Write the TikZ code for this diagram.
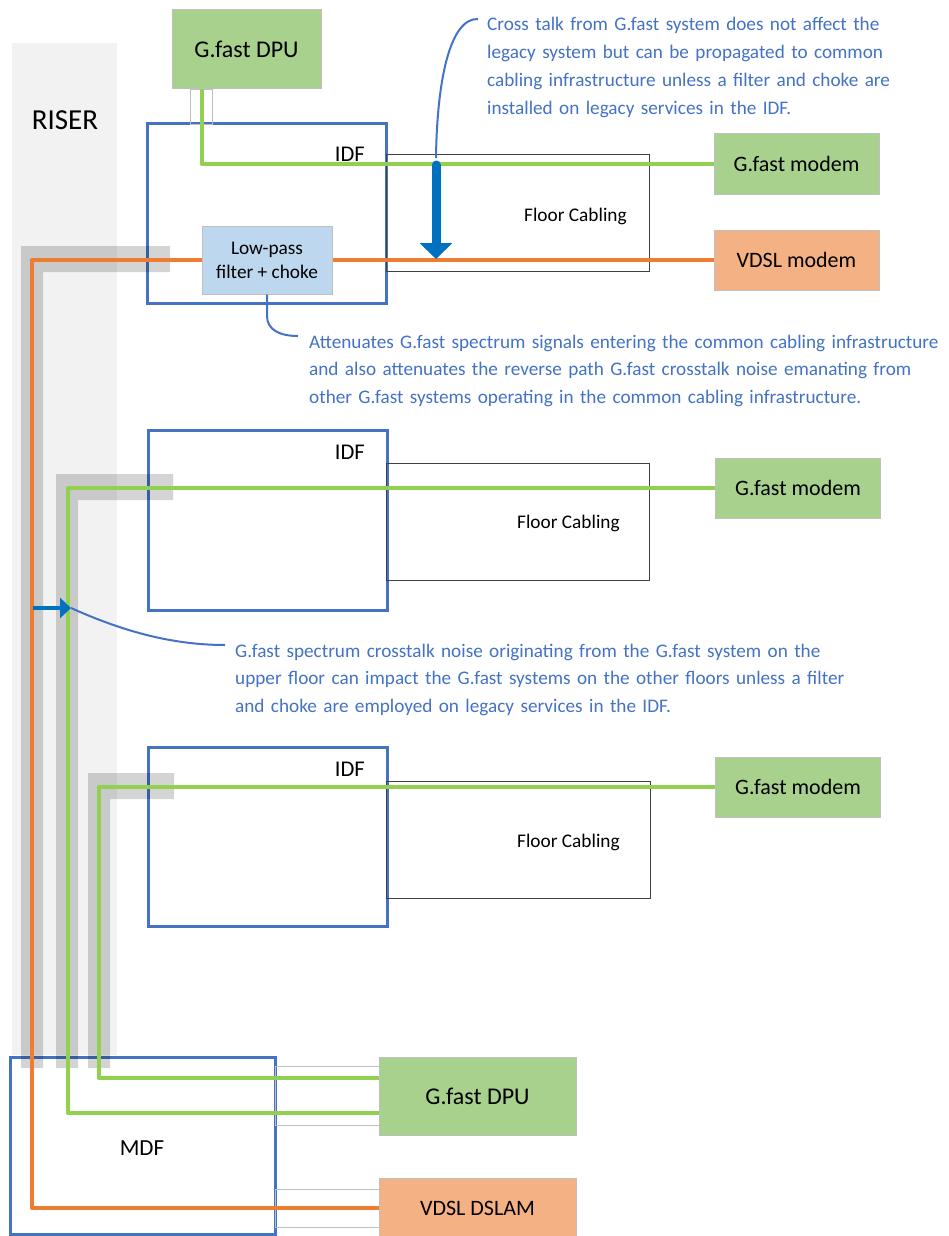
\documentclass[tikz,border=0pt]{standalone}
\usepackage{fontspec}
\setmainfont{Carlito}
\usetikzlibrary{arrows.meta}
\definecolor{dpugreen}{HTML}{A9D18E}
\definecolor{dslorange}{HTML}{F4B183}
\definecolor{cgreen}{HTML}{92D050}
\definecolor{corange}{HTML}{ED7D31}
\definecolor{idfblue}{HTML}{4472C4}
\definecolor{filblue}{HTML}{BDD7EE}
\definecolor{risergray}{HTML}{F2F2F2}
\definecolor{edgegray}{HTML}{BFBFBF}
\definecolor{arrowblue}{HTML}{0070C0}
\definecolor{fcline}{HTML}{404040}
\newcommand{\fsz}[2]{\fontsize{#1pt}{#2pt}\selectfont}
\begin{document}
\begin{tikzpicture}[x=1pt,y=-1pt,
  box/.style={draw=edgegray,line width=1pt,inner sep=0pt,align=center},
  device/.style={box,fill=dpugreen,font=\fsz{24}{28}},
  modem/.style={box,fill=dpugreen,minimum width=165pt,minimum height=60pt,font=\fsz{22}{26}},
  vdsl/.style={box,fill=dslorange,font=\fsz{22}{26}},
  idfbox/.style={draw=idfblue,line width=3pt,inner sep=0pt,minimum width=239pt,minimum height=179pt},
  fcbox/.style={draw=fcline,line width=1pt,inner sep=0pt,minimum width=263pt,minimum height=117pt},
  port/.style={draw=edgegray,line width=0.8pt,inner sep=0pt},
  band/.style={fill=black,opacity=0.17},
  gcable/.style={draw=cgreen,line width=4pt,line join=round},
  ocable/.style={draw=corange,line width=4pt,line join=round},
  lbl/.style={inner sep=0pt,font=\fsz{22.5}{26}},
  fclbl/.style={inner sep=0pt,anchor=base west,font=\fsz{19.3}{24}},
  note/.style={inner sep=0pt,anchor=base west,align=left,text width=630pt,text=idfblue,font=\fsz{19.2}{27.7}},
  callout/.style={draw=idfblue,line width=2pt},
]
\useasboundingbox (0,0) rectangle (949,1236);
\fill[white] (0,0) rectangle (949,1236);

% riser
\node[fill=risergray,inner sep=0pt,minimum width=105pt,minimum height=1012pt] (riser) at (64.5,549) {};
\node[lbl,font=\fsz{29}{32}] (riserlbl) at (65,120) {RISER};

% IDF / MDF boxes
\node[idfbox] (idf1) at (266.5,213.5) {};
\node[idfbox,minimum height=180pt] (idf2) at (267.5,520) {};
\node[idfbox] (idf3) at (267.5,836.5) {};
\node[idfbox,minimum width=265pt,minimum height=177pt] (mdf) at (142.5,1145.5) {};

% floor cabling
\node[fcbox] (fc1) at (517.5,212.5) {};
\node[fcbox] (fc2) at (517.5,521.5) {};
\node[fcbox,minimum width=264pt] (fc3) at (518,839.5) {};

% ports
\node[port,minimum width=22pt,minimum height=35pt] (p0) at (201,106.5) {};
\node[port,minimum width=105pt,minimum height=59pt] (p1) at (327.5,1095.5) {};
\node[port,minimum width=105pt,minimum height=38pt] (p2) at (327.5,1208) {};

% cable sheaths
\fill[band] (21,246) -- (170,246) -- (170,272) -- (43,272) -- (43,1068) -- (21,1068) -- cycle;
\fill[band] (56,474) -- (173,474) -- (173,500) -- (78,500) -- (78,1068) -- (56,1068) -- cycle;
\fill[band] (88,773) -- (174,773) -- (174,799) -- (110,799) -- (110,1068) -- (88,1068) -- cycle;

% devices
\node[device,minimum width=149pt,minimum height=79pt] (dpu1) at (246.5,49.5) {G.fast DPU};
\node[modem] (gm1) at (796.5,164) {G.fast modem};
\node[vdsl,minimum width=165pt,minimum height=60pt] (vm) at (796.5,260) {VDSL modem};
\node[modem] (gm2) at (798,488) {G.fast modem};
\node[modem] (gm3) at (798,787) {G.fast modem};
\node[box,fill=filblue,minimum width=130pt,minimum height=68pt,font=\fsz{19.3}{24}] (fil) at (267,260) {Low-pass\\filter + choke};
\node[device,minimum width=197pt,minimum height=78pt] (dpu2) at (477.5,1096) {G.fast DPU};
\node[vdsl,minimum width=197pt,minimum height=60pt] (dslam) at (477.5,1208) {VDSL DSLAM};

% labels
\node[lbl,anchor=east] (idf1lbl) at (365,154) {IDF};
\node[lbl,anchor=east] (idf2lbl) at (365,452) {IDF};
\node[lbl,anchor=east] (idf3lbl) at (365,769) {IDF};
\node[lbl,font=\fsz{23}{26}] (mdflbl) at (142,1148) {MDF};
\node[fclbl] (fc1lbl) at (524,221) {Floor Cabling};
\node[fclbl] (fc2lbl) at (517,528) {Floor Cabling};
\node[fclbl] (fc3lbl) at (517,847) {Floor Cabling};

% cables
\coordinate (o1) at (32,260);
\coordinate (g2) at (68,488);
\coordinate (g3) at (99,787);
\draw[gcable] ([xshift=-44.5pt]dpu1.south) |- (gm1.west);
\draw[ocable] (fil.west) -- (o1) |- (dslam.west);
\draw[ocable] (fil.east) -- (vm.west);
\draw[gcable] (gm2.west) -- (g2) |- ([yshift=-17pt]dpu2.west);
\draw[gcable] (gm3.west) -- (g3) |- ([yshift=18pt]dpu2.west);

% crosstalk arrows
\coordinate (xa) at (436,165);
\coordinate (xb) at (436,259);
\draw[arrowblue,line width=9pt,line cap=round,-{Triangle[width=32pt,length=16pt]}] (xa) -- (xb);
\coordinate (ya) at (33,608);
\coordinate (yb) at (71,608);
\draw[arrowblue,line width=3.5pt,-{Triangle[width=20pt,length=11pt]}] (ya) -- (yb);

% callouts
\coordinate (c1s) at (478,19);
\coordinate (c1e) at (436,158);
\draw[callout] (c1s) .. controls (450,18) and (437,80) .. (c1e);
\coordinate (c2a) at (267,316);
\coordinate (c2e) at (298,336);
\draw[callout] (fil.south) -- (c2a) .. controls (267,330) and (280,336) .. (c2e);
\coordinate (c3e) at (225,645);
\draw[callout] (yb) .. controls (120,630) and (170,645) .. (c3e);

\node[note] (n1) at (487,31) {Cross talk from G.fast system does not affect the\\legacy system but can be propagated to common\\cabling infrastructure unless a filter and choke are\\installed on legacy services in the IDF.};
\node[note] (n2) at (309,348) {Attenuates G.fast spectrum signals entering the common cabling infrastructure\\and also attenuates the reverse path G.fast crosstalk noise emanating from\\other G.fast systems operating in the common cabling infrastructure.};
\node[note] (n3) at (235,657) {G.fast spectrum crosstalk noise originating from the G.fast system on the\\upper floor can impact the G.fast systems on the other floors unless a filter\\and choke are employed on legacy services in the IDF.};
\end{tikzpicture}
\end{document}
